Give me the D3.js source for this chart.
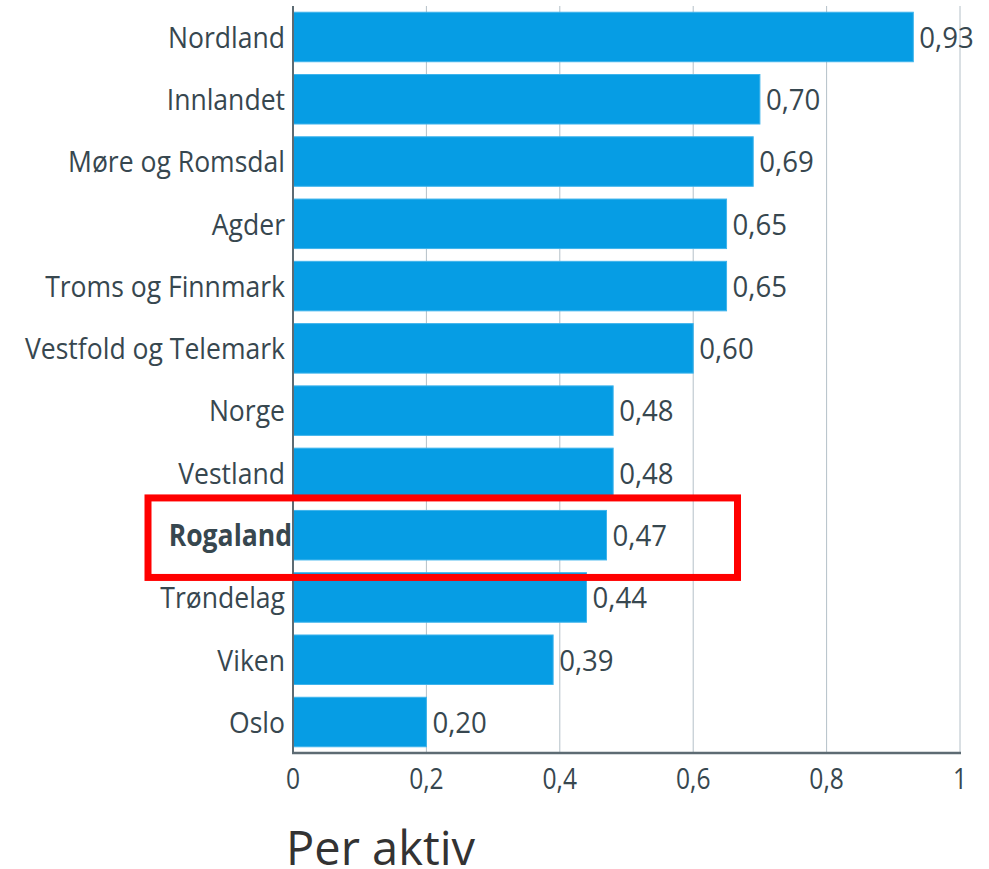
<!DOCTYPE html>
<html>
<head>
<meta charset="utf-8">
<script src="https://cdn.jsdelivr.net/npm/d3@7"></script>
<style>
  body { margin: 0; background: #fff; }
  text { font-family: "Open Sans", sans-serif; fill: #37474f; }
</style>
</head>
<body>
<div id="chart"></div>
<script>
var regions = ["Nordland", "Innlandet", "Møre og Romsdal", "Agder", "Troms og Finnmark",
  "Vestfold og Telemark", "Norge", "Vestland", "Rogaland", "Trøndelag", "Viken", "Oslo"];
var perAktiv = [0.93, 0.70, 0.69, 0.65, 0.65, 0.60, 0.48, 0.48, 0.47, 0.44, 0.39, 0.20];
var xTicks = [0, 0.2, 0.4, 0.6, 0.8, 1];
var highlight = "Rogaland";
var title = "Per aktiv";

var width = 989, height = 869;
var plotLeft = 293, plotRight = 960, plotTop = 6, plotBottom = 753;
// the text in the original is a little condensed
var sxLabel = 0.885, sxValue = 0.92, sxTick = 0.82;

var fmt = function(v) { return d3.format(".2f")(v).replace(".", ","); };
var fmtTick = function(v) { return String(v).replace(".", ","); };

var svg = d3.select("#chart").append("svg")
  .attr("width", width)
  .attr("height", height);

var x = d3.scaleLinear().domain([0, 1]).range([plotLeft, plotRight]);
var y = d3.scaleBand().domain(regions).range([plotTop, plotBottom])
  .paddingInner(0.205).paddingOuter(0.1);

// grid
svg.append("g").selectAll("line")
  .data(xTicks.slice(1))
  .enter().append("line")
  .attr("x1", d => x(d)).attr("x2", d => x(d))
  .attr("y1", plotTop).attr("y2", plotBottom)
  .style("stroke", "#b4c0c8").style("stroke-width", 1);

// bars
svg.append("g").selectAll("rect")
  .data(regions)
  .enter().append("rect")
  .attr("x", x(0))
  .attr("y", d => y(d))
  .attr("width", (d, i) => x(perAktiv[i]) - x(0))
  .attr("height", y.bandwidth())
  .style("fill", "#069de4")
  .style("stroke", "#3fb4ec")
  .style("stroke-width", 1);

// value labels
svg.append("g").selectAll("g")
  .data(regions)
  .enter().append("g")
  .attr("transform", (d, i) => "translate(" + (x(perAktiv[i]) + 6) + "," + (y(d) + y.bandwidth() / 2) + ") scale(" + sxValue + ",1)")
  .append("text")
  .attr("dy", "0.36em")
  .style("font-size", "30px")
  .text((d, i) => fmt(perAktiv[i]));

// category labels
svg.append("g").selectAll("g")
  .data(regions)
  .enter().append("g")
  .attr("transform", d => "translate(" + (d === highlight ? plotLeft - 1 : plotLeft - 8) + "," + (y(d) + y.bandwidth() / 2) + ") scale(" + sxLabel + ",1)")
  .append("text")
  .attr("dy", "0.36em")
  .attr("text-anchor", "end")
  .style("font-size", "30px")
  .style("font-weight", d => d === highlight ? "bold" : "normal")
  .text(d => d);

// axes lines
svg.append("line")
  .attr("x1", plotLeft).attr("x2", plotLeft).attr("y1", plotTop).attr("y2", plotBottom)
  .style("stroke", "#5d6b73").style("stroke-width", 2);
svg.append("line")
  .attr("x1", plotLeft - 1).attr("x2", plotRight + 1).attr("y1", plotBottom).attr("y2", plotBottom)
  .style("stroke", "#5d6b73").style("stroke-width", 2.5);

// tick labels
svg.append("g").selectAll("g")
  .data(xTicks)
  .enter().append("g")
  .attr("transform", d => "translate(" + x(d) + "," + (plotBottom + 36) + ") scale(" + sxTick + ",1)")
  .append("text")
  .attr("text-anchor", "middle")
  .style("font-size", "30px")
  .text(d => fmtTick(d));

// title
svg.append("text")
  .attr("x", 286).attr("y", 865)
  .style("font-size", "47px")
  .style("fill", "#333")
  .text(title);

// highlight box
var hy = y(highlight);
svg.append("rect")
  .attr("x", 148).attr("y", hy - 12.5)
  .attr("width", 589.5).attr("height", y.bandwidth() + 30)
  .style("fill", "none")
  .style("stroke", "#ff0000")
  .style("stroke-width", 7);
</script>
</body>
</html>
